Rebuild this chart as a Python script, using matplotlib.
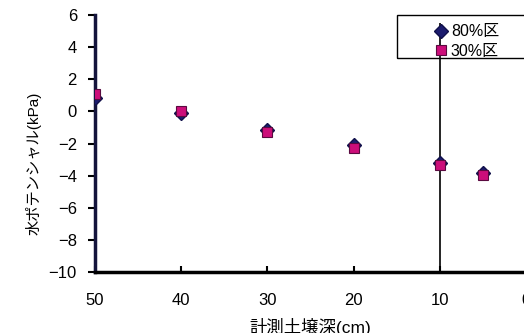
import matplotlib as mpl
mpl.use('Agg')
import matplotlib.pyplot as plt
from matplotlib.patches import Rectangle

plt.rcParams['font.family'] = ['Liberation Sans', 'Noto Sans CJK JP', 'DejaVu Sans']

# depth (cm) and water potential (kPa)
depth = [50, 40, 30, 20, 10, 5]
pot_80 = [0.82, -0.1, -1.16, -2.09, -3.19, -3.85]
pot_30 = [1.08, 0.0, -1.26, -2.3, -3.34, -3.96]
labels = ['80%区', '30%区']
ref_depth = 10
x_ticks = [50, 40, 30, 20, 10, 0]
y_ticks = [-10, -8, -6, -4, -2, 0, 2, 4, 6]

fig = plt.figure(figsize=(5.24, 3.33), dpi=100)
ax = fig.add_axes([95/524, 61/333, 431/524, 257/333])

ax.vlines(ref_depth, -10, 5.5, color='black', lw=1.2, zorder=1)
ax.plot(depth, pot_80, ls='none', marker='D', ms=7.5, color='#1c1c6e',
        mec='#10104a', label=labels[0], zorder=3)
ax.plot(depth, pot_30, ls='none', marker='s', ms=7.5, color='#cc0e7a',
        mec='#5a0a40', mew=0.8, label=labels[1], zorder=4)

ax.set_xlim(50, 0)
ax.set_ylim(-10, 6)
ax.set_xticks(x_ticks)
ax.set_yticks(y_ticks)
ax.set_yticklabels([str(v).replace('-', '\u2212') for v in y_ticks])

for s in ['top', 'right']:
    ax.spines[s].set_visible(False)
ax.spines['left'].set_linewidth(2.5)
ax.spines['left'].set_color('#14143c')
ax.spines['bottom'].set_linewidth(2.5)
ax.spines['bottom'].set_color('black')

ax.tick_params(axis='y', direction='out', length=5, width=1.5, pad=8, labelsize=12)
ax.tick_params(axis='x', direction='in', length=4, width=1.5, pad=15, labelsize=12)

ax.set_ylabel('水ポテンシャル(kPa)', fontsize=11)
ax.yaxis.set_label_coords(-0.123, 0.424)
ax.set_xlabel('計測土壌深(cm)', fontsize=12.5)
ax.xaxis.set_label_coords(0.5, -0.178)

leg = ax.legend(loc='upper left', bbox_to_anchor=(423/524, 1 - 13/333),
                bbox_transform=fig.transFigure, frameon=False, fontsize=11.5,
                handlelength=0.8, handletextpad=0.25, labelspacing=0.3,
                borderpad=0.2)

fig.patches.append(Rectangle((397/524, 1 - 58/333), 140/524, 43/333,
                             transform=fig.transFigure, fill=False,
                             ec='black', lw=1))

fig.savefig('out.png', dpi=100)
